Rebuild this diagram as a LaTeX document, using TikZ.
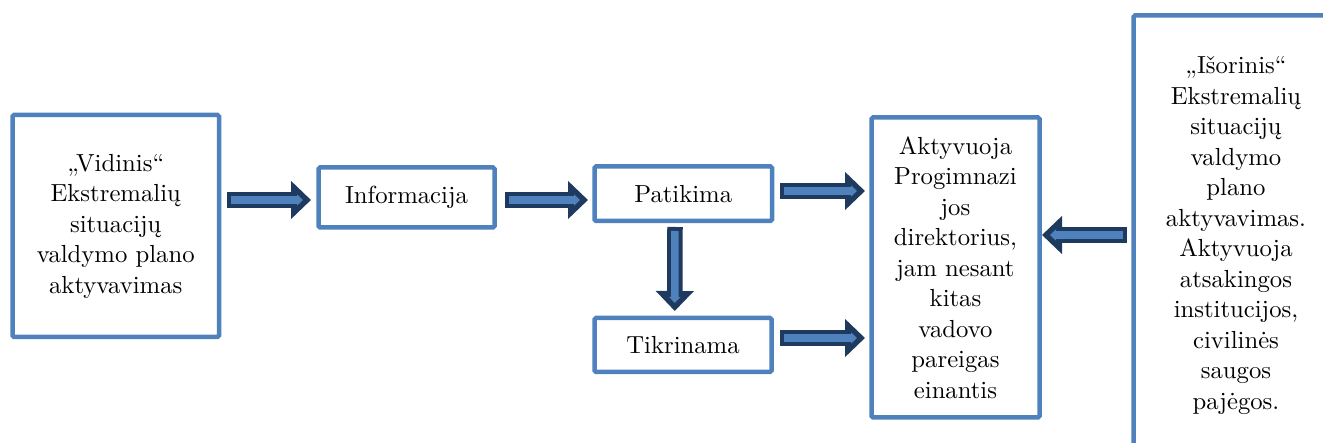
\documentclass[tikz,border=0pt]{standalone}
\usepackage{fontspec}
\newfontfamily\lmten{lmroman10-regular.otf}
\usetikzlibrary{arrows.meta}
\definecolor{boxblue}{HTML}{4F81BD}
\definecolor{arrownavy}{HTML}{1F3A5F}
\newcommand*{\boxfont}{\lmten\fontsize{24.7}{30.5}\selectfont}

\begin{document}
\begin{tikzpicture}[x=1pt, y=-1pt]
  \useasboundingbox (0,0) rectangle (1323,443);
  \clip (0,0) rectangle (1323,443);

  {\tikzset{every node/.style={draw=boxblue, line width=4.5pt, rounded corners=1.5pt,
      align=center, inner sep=0pt, outer sep=0pt, font=\boxfont}}
    \node[minimum width=206.5pt, minimum height=222pt] (lbox) at (115.75, 226)
      {„Vidinis“\\Ekstremalių\\situacijų\\valdymo plano\\aktyvavimas};
    \node[minimum width=176pt, minimum height=60pt] (info) at (406.5, 197.5) {Informacija};
    \node[minimum width=177.5pt, minimum height=54.5pt] (pat) at (683.25, 193.75) {Patikima};
    \node[minimum width=177pt, minimum height=54pt] (tik) at (683, 345) {Tikrinama};
    \node[minimum width=168pt, minimum height=300pt] (akt) at (955.5, 267.5)
      {Aktyvuoja\\Progimnazi\\jos\\direktorius,\\jam nesant\\kitas\\vadovo\\pareigas\\einantis};
    \node[minimum width=205pt, minimum height=439.5pt] (rbox) at (1236, 235.25)
      {„Išorinis“\\Ekstremalių\\situacijų\\valdymo\\plano\\aktyvavimas.\\Aktyvuoja\\atsakingos\\institucijos,\\civilinės\\saugos\\pajėgos.};
  }

  % arrow ends
  \coordinate (a1s) at ([xshift=8pt,yshift=-2.5pt]lbox.east |- info.west);
  \coordinate (a1e) at ([xshift=-7.5pt,yshift=-2.5pt]info.west);
  \coordinate (a2s) at ([xshift=10.5pt,yshift=-2.5pt]info.east);
  \coordinate (a2e) at ([xshift=-6.5pt,yshift=-2.5pt]pat.west |- info.east);
  \coordinate (a3s) at ([xshift=8pt,yshift=2.75pt]pat.east);
  \coordinate (a3e) at ([xshift=-6.5pt,yshift=2.75pt]akt.west |- pat.east);
  \coordinate (a4s) at ([xshift=8.5pt,yshift=7pt]tik.east);
  \coordinate (a4e) at ([xshift=-6.5pt,yshift=7pt]akt.west |- tik.east);
  \coordinate (a5s) at ([xshift=-8.25pt,yshift=-6pt]pat.south);
  \coordinate (a5e) at ([xshift=-8.25pt,yshift=7pt]tik.north);
  \coordinate (a6s) at ([xshift=-6.5pt,yshift=32.5pt]rbox.west |- akt.east);
  \coordinate (a6e) at ([xshift=2.5pt,yshift=32.5pt]akt.east);

  \foreach \s/\e in {a1s/a1e, a2s/a2e, a3s/a3e, a4s/a4e, a5s/a5e, a6s/a6e}
  {
    \draw[arrownavy, line width=15.5pt, -{Triangle[width=37pt,length=20pt]}] (\s) -- (\e);
    \draw[boxblue, line width=7.5pt, shorten <=4pt, shorten >=8pt,
      -{Triangle[width=11pt,length=6pt]}] (\s) -- (\e);
  }
\end{tikzpicture}
\end{document}
